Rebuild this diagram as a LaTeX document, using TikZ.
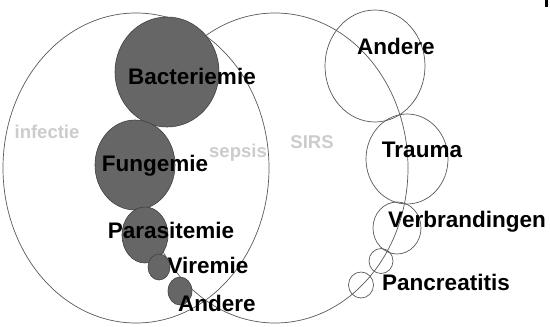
\documentclass[tikz,border=0pt]{standalone}
\usepackage{fontspec}
\setmainfont{Liberation Sans}
\begin{document}
\begin{tikzpicture}[x=1pt,y=-1pt,
  bigset/.style={draw=black!65,line width=0.7pt},
  darkc/.style={draw=black!75,fill=black!60,line width=0.6pt},
  openc/.style={draw=black!65,line width=0.7pt},
  lbl/.style={font=\fontsize{22.5}{24}\selectfont\bfseries,text=black,inner sep=0pt},
  glbl/.style={font=\fontsize{18.5}{20}\selectfont\bfseries,text=black!20,inner sep=0pt}]
\useasboundingbox (0,0) rectangle (550,327);
\fill[white] (0,0) rectangle (550,327);
% large sets
\draw[bigset] (136,168) ellipse [x radius=133,y radius=155];
\draw[bigset] (275,168) ellipse [x radius=133,y radius=155];
% dark circles (infections)
\draw[darkc] (167,72) ellipse [x radius=52,y radius=55];
\draw[darkc] (135,165) ellipse [x radius=40,y radius=45];
\draw[darkc] (145,235) ellipse [x radius=23,y radius=28];
\draw[darkc] (159,267) ellipse [x radius=11,y radius=13];
\draw[darkc] (180,291) ellipse [x radius=12,y radius=14];
% open circles (SIRS causes)
\draw[openc] (375,66) ellipse [x radius=50,y radius=56];
\draw[openc] (407,159) ellipse [x radius=41,y radius=45];
\draw[openc] (397,228) ellipse [x radius=24,y radius=26];
\draw[openc] (381,261) ellipse [x radius=12,y radius=12.5];
\draw[openc] (361,285) ellipse [x radius=12.5,y radius=13];
% gray set labels
\node[glbl] (inf) at (47,132) {infectie};
\node[glbl] (sep) at (238,153) {sepsis};
\node[glbl] (sirs) at (312,142) {SIRS};
% labels
\node[lbl] (bac) at (192,76) {Bacteriemie};
\node[lbl] (fun) at (155,166) {Fungemie};
\node[lbl] (par) at (171,230) {Parasitemie};
\node[lbl] (vir) at (208,265) {Viremie};
\node[lbl] (and1) at (217,303) {Andere};
\node[lbl] (and2) at (396,46) {Andere};
\node[lbl] (tra) at (422,150) {Trauma};
\node[lbl] (ver) at (467,222) {Verbrandingen};
\node[lbl] (pan) at (446,282) {Pancreatitis};
% corner mark
\fill[black] (545,0) rectangle (548,7);
\end{tikzpicture}
\end{document}
